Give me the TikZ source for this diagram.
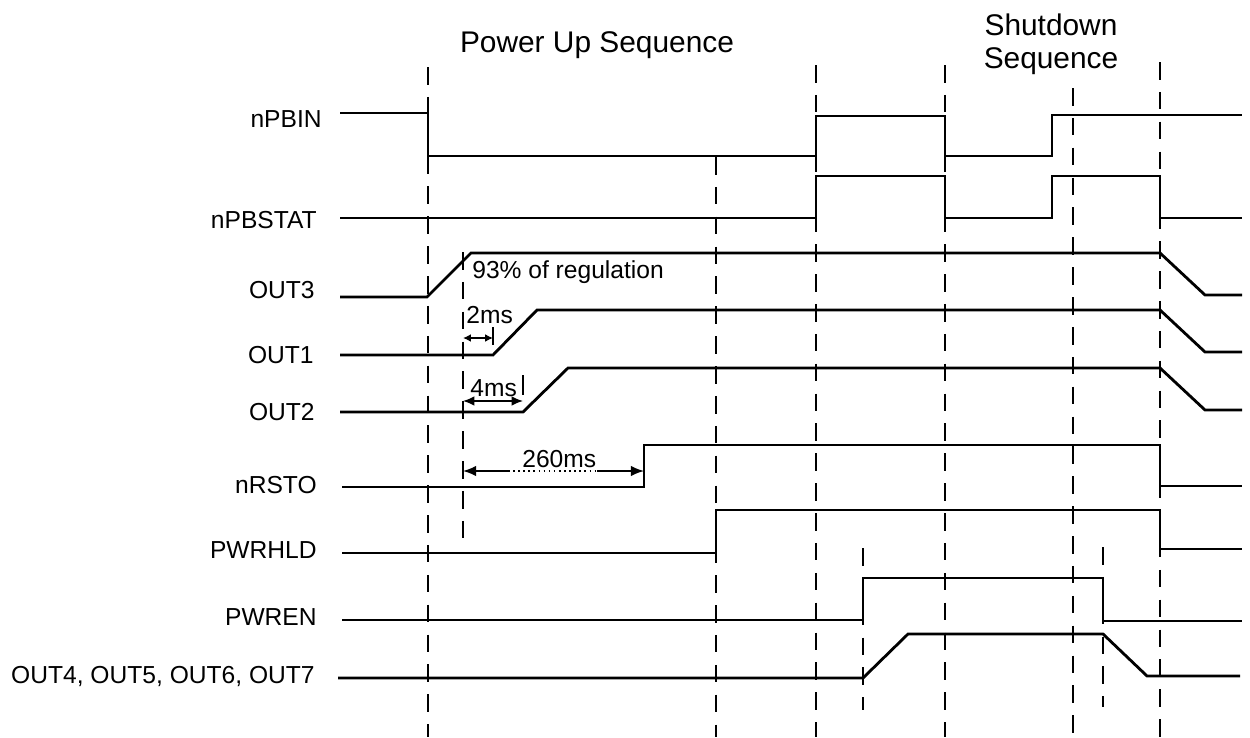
\documentclass[tikz,border=0pt]{standalone}
\usepackage{fontspec}
\setmainfont{Liberation Sans}
\usetikzlibrary{arrows.meta}

\begin{document}
\begin{tikzpicture}[x=0.02cm,y=-0.02cm,
    wave/.style={line width=1.6pt,line join=miter},
    timeline/.style={line width=1.15pt,dash pattern=on 10pt off 7pt},
    sig label/.style={anchor=base east,inner sep=0pt,font=\fontsize{14}{16}\selectfont},
    note/.style={anchor=base west,inner sep=0pt,font=\fontsize{14}{16}\selectfont},
    phase/.style={anchor=base,inner sep=0pt,align=center,font=\fontsize{17}{19.5}\selectfont},
    dim/.style={line width=0.9pt}]
  \useasboundingbox (0,0) rectangle (1250,737);

  % titles and signal names
  \path (597,52)  node[phase] (up) {Power Up Sequence}
        (1051,35) node[phase] (down) {Shutdown}
        (1051,68) node[phase] (down2) {Sequence};
  \path (322,127) node[sig label] (npbin) {nPBIN}
        (317,228) node[sig label] (npbstat) {nPBSTAT}
        (315,298) node[sig label] (out3) {OUT3}
        (314,363) node[sig label] (out1) {OUT1}
        (315,420) node[sig label] (out2) {OUT2}
        (317,493) node[sig label] (nrsto) {nRSTO}
        (317,558) node[sig label] (pwrhld) {PWRHLD}
        (317,625) node[sig label] (pwren) {PWREN}
        (315,683) node[sig label] (out47) {OUT4, OUT5, OUT6, OUT7};

  % time marks
  \draw[timeline] (428,67) -- (428,737);
  \draw[timeline] (463,252) -- (463,540);
  \draw[timeline] (716,157) -- (716,737);
  \draw[timeline] (816,65) -- (816,737);
  \draw[timeline] (945,65) -- (945,737);
  \draw[timeline] (1073,88) -- (1073,737);
  \draw[timeline] (1160,62) -- (1160,737);
  \draw[timeline] (863,548) -- (863,710);
  \draw[timeline] (1103,547) -- (1103,707);

  % waveforms
  \draw[wave] (340,113) -- (428,113) -- (428,156) -- (816,156) -- (816,116) -- (945,116)
              -- (945,156) -- (1052,156) -- (1052,115) -- (1242,115);
  \draw[wave] (340,218) -- (816,218) -- (816,176) -- (945,176) -- (945,218) -- (1052,218)
              -- (1052,176) -- (1160,176) -- (1160,218) -- (1242,218);
  \draw[wave] (340,297) -- (427,297) -- (471,253) -- (1160,253) -- (1205,295) -- (1242,295);
  \draw[wave] (340,355) -- (493,355) -- (537,310) -- (1160,310) -- (1205,352) -- (1242,352);
  \draw[wave] (340,412) -- (523,412) -- (568,368) -- (1160,368) -- (1205,410) -- (1242,410);
  \draw[wave] (342,487) -- (644,487) -- (644,445) -- (1160,445) -- (1160,486) -- (1242,486);
  \draw[wave] (342,553) -- (716,553) -- (716,510) -- (1160,510) -- (1160,549) -- (1242,549);
  \draw[wave] (342,620) -- (863,620) -- (863,578) -- (1103,578) -- (1103,621) -- (1242,621);
  \draw[wave] (338,678) -- (863,678) -- (908,634) -- (1103,634) -- (1147,676) -- (1240,676);

  % delays
  \coordinate (d2a) at (463,338);  \coordinate (d2b) at (493,338);
  \coordinate (d4a) at (463,401);  \coordinate (d4b) at (523,401);
  \coordinate (r0) at (463,471);   \coordinate (r1) at (508,471);
  \coordinate (r2) at (597,471);   \coordinate (r3) at (644,471);
  \draw[dim] (493,327) -- (493,345);
  \draw[dim] (523,375) -- (523,395);
  \draw[dim,{Latex[length=4.5pt,width=4.5pt]}-{Latex[length=4.5pt,width=4.5pt]}] (d2a) -- (d2b);
  \draw[dim,{Latex[length=6.5pt,width=5.5pt]}-{Latex[length=6.5pt,width=5.5pt]}] (d4a) -- (d4b);
  \draw[dim,{Latex[length=7.5pt,width=6pt]}-] (r0) -- (r1);
  \draw[dim,dotted] (r1) -- (r2);
  \draw[dim,-{Latex[length=7.5pt,width=6pt]}] (r2) -- (r3);
  \path (472,278) node[note] (reg) {93\% of regulation}
        (466,323) node[note] (t2) {2ms}
        (470,396) node[note] (t4) {4ms}
        (522,467) node[note] (t260) {260ms};
\end{tikzpicture}
\end{document}
